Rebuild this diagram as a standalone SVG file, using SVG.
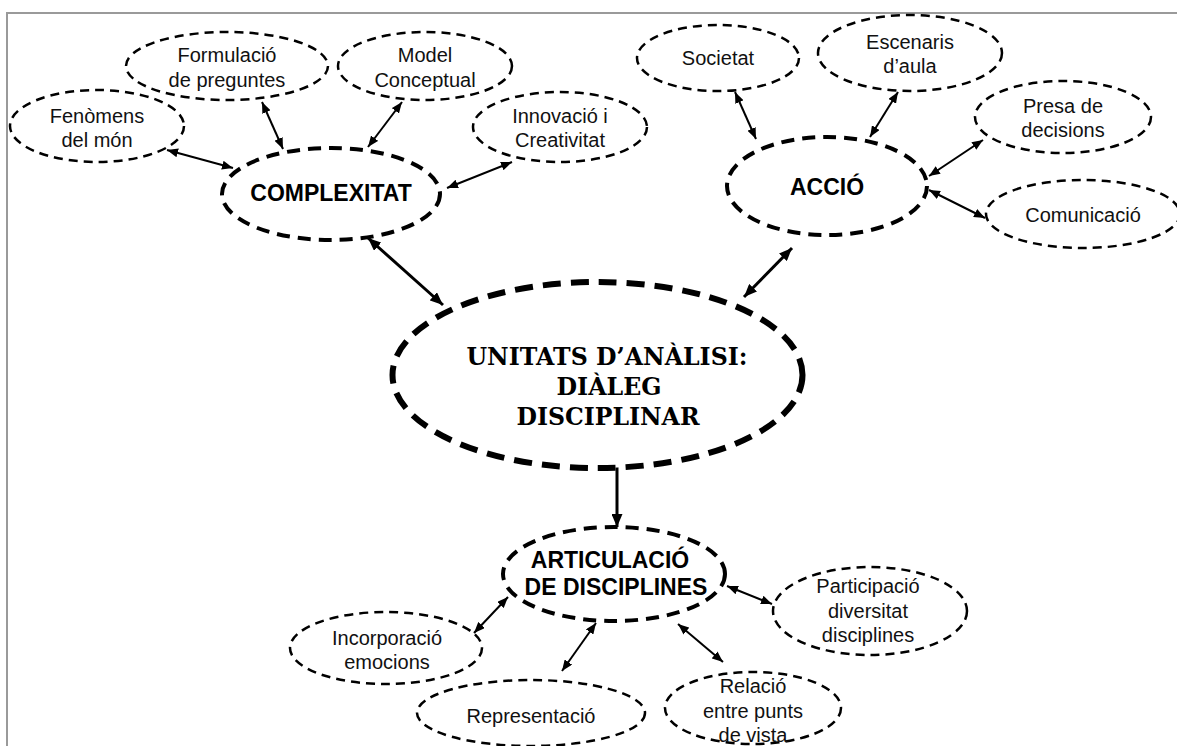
<svg xmlns="http://www.w3.org/2000/svg" width="1177" height="746" viewBox="0 0 1177 746">
<style>
.sm{fill:#fff;stroke:#000;stroke-width:2.5;stroke-dasharray:9 6}
.md{fill:#fff;stroke:#000;stroke-width:4;stroke-dasharray:13 8}
.lg{fill:#fff;stroke:#000;stroke-width:6;stroke-dasharray:18 10}
.t{font-family:"Liberation Sans",Arial,sans-serif;font-size:20px;fill:#111;text-anchor:middle}
.tb{font-family:"Liberation Sans",Arial,sans-serif;font-size:23px;font-weight:bold;fill:#000;text-anchor:middle}
.ts{font-family:"DejaVu Serif","Liberation Serif",serif;font-size:24px;font-weight:bold;fill:#000;text-anchor:middle}
.c{stroke:#000;stroke-width:2;fill:none}
.ct{stroke:#000;stroke-width:3;fill:none}
</style>
<defs>
<marker id="a" markerUnits="userSpaceOnUse" markerWidth="11" markerHeight="9" refX="11" refY="4.5" orient="auto-start-reverse"><path d="M0,0 L11,4.5 L0,9 z" fill="#000"/></marker>
<marker id="b" markerUnits="userSpaceOnUse" markerWidth="13" markerHeight="11" refX="13" refY="5.5" orient="auto-start-reverse"><path d="M0,0 L13,5.5 L0,11 z" fill="#000"/></marker>
</defs>
<rect width="1177" height="746" fill="#fff"/>
<path d="M7,746 V13 H1177" fill="none" stroke="#9a9a9a" stroke-width="2"/>

<g id="connectors">
<line class="c" x1="167" y1="150" x2="233" y2="168" marker-start="url(#a)" marker-end="url(#a)"/>
<line class="c" x1="262" y1="102" x2="283" y2="149" marker-start="url(#a)" marker-end="url(#a)"/>
<line class="c" x1="402" y1="102" x2="368" y2="147" marker-start="url(#a)" marker-end="url(#a)"/>
<line class="c" x1="512" y1="162" x2="447" y2="188" marker-start="url(#a)" marker-end="url(#a)"/>
<line class="c" x1="735" y1="92" x2="756" y2="139" marker-start="url(#a)" marker-end="url(#a)"/>
<line class="c" x1="898" y1="92" x2="870" y2="137" marker-start="url(#a)" marker-end="url(#a)"/>
<line class="c" x1="983" y1="140" x2="929" y2="176" marker-start="url(#a)" marker-end="url(#a)"/>
<line class="c" x1="929" y1="190" x2="985" y2="218" marker-start="url(#a)" marker-end="url(#a)"/>
<line class="c" x1="474" y1="633" x2="508" y2="597" marker-start="url(#a)" marker-end="url(#a)"/>
<line class="c" x1="562" y1="671" x2="596" y2="623" marker-start="url(#a)" marker-end="url(#a)"/>
<line class="c" x1="727" y1="586" x2="772" y2="604" marker-start="url(#a)" marker-end="url(#a)"/>
<line class="c" x1="678" y1="624" x2="723" y2="662" marker-start="url(#a)" marker-end="url(#a)"/>
<line class="ct" x1="368" y1="238" x2="443" y2="305" marker-start="url(#b)" marker-end="url(#b)"/>
<line class="ct" x1="792" y1="248" x2="744" y2="297" marker-start="url(#b)" marker-end="url(#b)"/>
<line class="ct" x1="617" y1="467" x2="617" y2="527" marker-end="url(#b)"/>
</g>

<g id="fenomens"><ellipse class="sm" cx="97" cy="126" rx="87" ry="36"/><text class="t" x="97" y="123">Fenòmens</text><text class="t" x="97" y="147">del món</text></g>
<g id="formulacio"><ellipse class="sm" cx="227" cy="66" rx="101" ry="34"/><text class="t" x="227" y="62">Formulació</text><text class="t" x="227" y="87">de preguntes</text></g>
<g id="model"><ellipse class="sm" cx="425" cy="66" rx="87" ry="34"/><text class="t" x="425" y="62">Model</text><text class="t" x="425" y="87">Conceptual</text></g>
<g id="innovacio"><ellipse class="sm" cx="560" cy="127" rx="87" ry="35"/><text class="t" x="560" y="123">Innovació i</text><text class="t" x="560" y="147">Creativitat</text></g>
<g id="complexitat"><ellipse class="md" cx="331" cy="194" rx="109" ry="46"/><text class="tb" x="331" y="201">COMPLEXITAT</text></g>

<g id="societat"><ellipse class="sm" cx="718" cy="58" rx="81" ry="33"/><text class="t" x="718" y="65">Societat</text></g>
<g id="escenaris"><ellipse class="sm" cx="910" cy="53" rx="92" ry="38"/><text class="t" x="910" y="49">Escenaris</text><text class="t" x="910" y="73">d’aula</text></g>
<g id="presa"><ellipse class="sm" cx="1063" cy="117" rx="88" ry="36"/><text class="t" x="1063" y="113">Presa de</text><text class="t" x="1063" y="137">decisions</text></g>
<g id="comunicacio"><ellipse class="sm" cx="1083" cy="214" rx="97" ry="34"/><text class="t" x="1083" y="222">Comunicació</text></g>
<g id="accio"><ellipse class="md" cx="827" cy="186" rx="100" ry="49"/><text class="tb" x="827" y="195">ACCIÓ</text></g>

<g id="central"><ellipse class="lg" cx="597.5" cy="375" rx="205" ry="93"/>
<text class="ts" x="607" y="365" textLength="281" lengthAdjust="spacingAndGlyphs">UNITATS D’ANÀLISI:</text>
<text class="ts" x="609" y="395" textLength="105" lengthAdjust="spacingAndGlyphs">DIÀLEG</text>
<text class="ts" x="608" y="425" textLength="183" lengthAdjust="spacingAndGlyphs">DISCIPLINAR</text></g>

<g id="articulacio"><ellipse class="md" cx="614" cy="574" rx="111" ry="47"/><text class="tb" x="610" y="568">ARTICULACIÓ</text><text class="tb" x="616" y="595">DE DISCIPLINES</text></g>
<g id="participacio"><ellipse class="sm" cx="870" cy="611" rx="97" ry="44"/><text class="t" x="868" y="593">Participació</text><text class="t" x="868" y="618">diversitat</text><text class="t" x="868" y="642">disciplines</text></g>
<g id="incorporacio"><ellipse class="sm" cx="386" cy="648" rx="96" ry="36"/><text class="t" x="387" y="645">Incorporació</text><text class="t" x="387" y="669">emocions</text></g>
<g id="representacio"><ellipse class="sm" cx="531" cy="713" rx="114" ry="33"/><text class="t" x="531" y="723">Representació</text></g>
<g id="relacio"><ellipse class="sm" cx="753" cy="708" rx="88" ry="36"/><text class="t" x="753" y="693">Relació</text><text class="t" x="753" y="718">entre punts</text><text class="t" x="753" y="742">de vista</text></g>
</svg>
